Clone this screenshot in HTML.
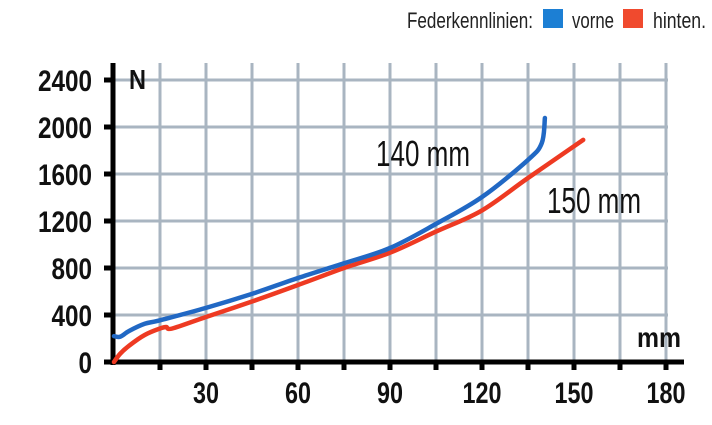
<!DOCTYPE html>
<html><head><meta charset="utf-8"><style>
html,body{margin:0;padding:0;background:#fff;}
svg{display:block;font-family:"Liberation Sans",sans-serif;}
</style></head><body>
<svg id="chart" width="712" height="425" viewBox="0 0 712 425">
<g id="grid"></g>
<g id="axes"></g>
<g id="series"></g>
<g>
<text x="407" y="28" font-size="22" fill="#222" textLength="126" lengthAdjust="spacingAndGlyphs">Federkennlinien:</text>
<rect x="543" y="9" width="20" height="19" fill="#1c7fd4"/>
<text x="572" y="28" font-size="22" fill="#222" textLength="42" lengthAdjust="spacingAndGlyphs">vorne</text>
<rect x="623" y="9" width="20" height="19" fill="#f04a2e"/>
<text x="653" y="28" font-size="22" fill="#222" textLength="53" lengthAdjust="spacingAndGlyphs">hinten.</text>
</g>
<text x="376" y="166" font-size="36" fill="#111" textLength="94" lengthAdjust="spacingAndGlyphs">140 mm</text>
<text x="547" y="213" font-size="36" fill="#111" textLength="94" lengthAdjust="spacingAndGlyphs">150 mm</text>
<text x="129" y="89" font-size="28" font-weight="bold" fill="#111" textLength="17" lengthAdjust="spacingAndGlyphs">N</text>
<text x="637" y="347" font-size="28" font-weight="bold" fill="#111" textLength="44" lengthAdjust="spacingAndGlyphs">mm</text>
</svg>
<script>
const xTicks=[15,30,45,60,75,90,105,120,135,150,165,180];
const xLabels=["30","60","90","120","150","180"];
const yTicks=[0,400,800,1200,1600,2000,2400];
const frontX=[0,2,5,10,15,30,45,60,75,90,105,120,135,139.5,140.5];
const frontY=[220,215,265,325,355,460,580,715,840,970,1175,1404,1720,1864,2077];
const rearX=[0,2,5,10,15,17,19,30,45,60,75,90,105,120,135,153];
const rearY=[0,70,140,230,285,298,285,383,515,655,800,930,1110,1290,1566,1890];
const NS="http://www.w3.org/2000/svg";
const sx=v=>114+v*46/15;
const sy=v=>362-v*47/400;
function mk(tag,attrs,parent){const e=document.createElementNS(NS,tag);for(const k in attrs)e.setAttribute(k,attrs[k]);parent.appendChild(e);return e;}
const grid=document.getElementById('grid'),axes=document.getElementById('axes'),series=document.getElementById('series');
xTicks.forEach(v=>{
 const l=mk('line',{x1:sx(v),x2:sx(v),y1:63,y2:362,stroke:'#a9b5c1','stroke-width':3},grid);
 
 
 const t=mk('line',{x1:sx(v),x2:sx(v),y1:362,y2:370,stroke:'#000','stroke-width':5},axes);
 
 
});
yTicks.forEach(v=>{
 if(v>0){const l=mk('line',{x1:113,x2:668,y1:sy(v),y2:sy(v),stroke:'#a9b5c1','stroke-width':3},grid);
 
 }
 const t=mk('line',{x1:104,x2:113,y1:sy(v),y2:sy(v),stroke:'#000','stroke-width':5},axes);
 
 
 const s=String(v);
 const tx=mk('text',{x:92,y:sy(v)+11,'font-size':30,'font-weight':'bold','text-anchor':'end',fill:'#111',textLength:s.length*13.5,lengthAdjust:'spacingAndGlyphs'},axes);
 tx.textContent=s;
 
 
});
xLabels.forEach(s=>{
 const v=+s;
 const tx=mk('text',{x:sx(v)-(s.length*13)/2,y:403,'font-size':30,'font-weight':'bold',fill:'#111',textLength:s.length*13,lengthAdjust:'spacingAndGlyphs'},axes);
 tx.textContent=s;
 
 
});
const ya=mk('line',{x1:113,x2:113,y1:63,y2:365,stroke:'#000','stroke-width':5},axes);


const xa=mk('line',{x1:111,x2:684,y1:362,y2:362,stroke:'#000','stroke-width':5},axes);


function line(xs,ys,color,name){
 const P=xs.map((x,i)=>[sx(x),sy(ys[i])]);
 let d='M'+P[0][0].toFixed(1)+' '+P[0][1].toFixed(1);
 for(let i=0;i<P.length-1;i++){
  const p0=P[Math.max(0,i-1)],p1=P[i],p2=P[i+1],p3=P[Math.min(P.length-1,i+2)];
  const c1=[p1[0]+(p2[0]-p0[0])/6,p1[1]+(p2[1]-p0[1])/6];
  const c2=[p2[0]-(p3[0]-p1[0])/6,p2[1]-(p3[1]-p1[1])/6];
  d+=' C'+c1[0].toFixed(1)+' '+c1[1].toFixed(1)+' '+c2[0].toFixed(1)+' '+c2[1].toFixed(1)+' '+p2[0].toFixed(1)+' '+p2[1].toFixed(1);
 }
 const p=mk('path',{d:d,fill:'none',stroke:color,'stroke-width':4.5,'stroke-linejoin':'round','stroke-linecap':'round'},series);
 
 
}
line(rearX,rearY,'#ee3a22','line-hinten');
line(frontX,frontY,'#2168c4','line-vorne');
</script>
</body></html>
